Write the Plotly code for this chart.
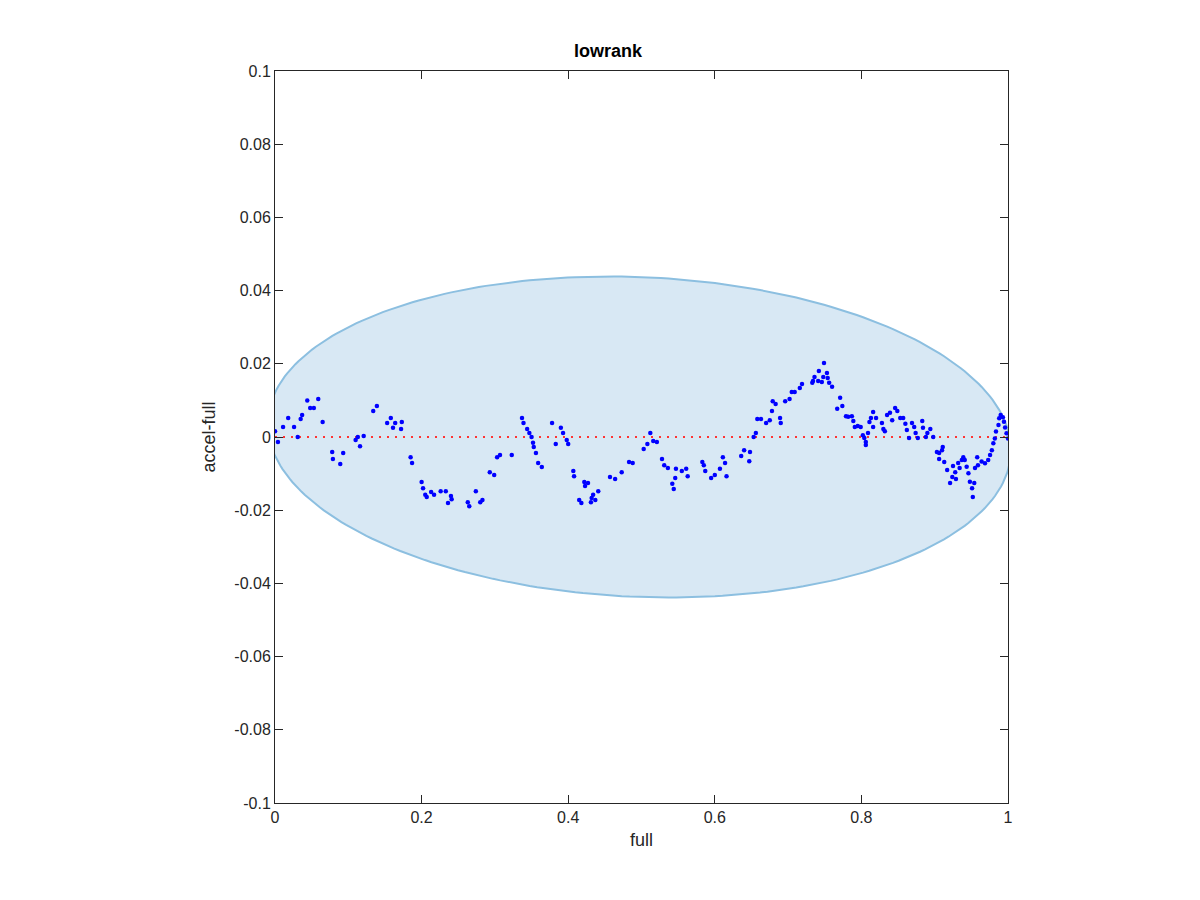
import numpy as np
import plotly.graph_objects as go

x_vals = [0.000,0.004,0.011,0.018,0.026,0.031,0.035,0.037,0.044,0.048,0.053,0.059,0.065,0.078,0.079,0.089,0.093,
0.110,0.113,0.116,0.121,0.134,0.139,0.153,0.158,0.161,0.164,0.172,0.173,0.185,0.187,0.200,0.202,0.205,0.207,0.213,
0.217,0.226,0.233,0.236,0.240,0.241,0.263,0.265,0.274,0.280,0.283,0.293,0.299,0.303,0.307,0.323,0.337,0.339,0.344,
0.347,0.350,0.352,0.353,0.356,0.359,0.364,0.378,0.383,0.390,0.393,0.398,0.400,0.407,0.408,0.422,0.423,0.427,0.415,
0.418,0.431,0.432,0.434,0.437,0.441,0.457,0.464,0.473,0.483,0.488,
0.503,0.508,0.512,0.516,0.521,0.528,0.531,0.536,0.542,0.544,0.546,0.547,0.555,0.561,0.563,0.583,0.585,0.587,0.595,
0.600,0.607,0.611,0.614,0.616,0.636,0.640,0.647,0.648,0.653,0.656,0.658,0.663,0.670,0.675,0.678,0.679,0.683,0.689,
0.690,0.696,0.702,0.705,0.709,0.716,0.719,0.733,0.734,0.736,0.741,0.742,0.746,0.748,0.749,0.753,0.754,0.756,0.760,
0.767,0.771,0.774,0.779,0.782,0.787,0.789,0.791,0.795,0.799,0.802,0.804,0.806,0.806,0.809,0.811,0.813,0.816,0.816,
0.820,0.828,0.830,0.832,0.835,0.839,0.842,0.846,0.849,0.853,0.857,0.860,0.862,0.865,0.869,0.872,0.874,0.877,0.883,
0.884,0.888,0.890,0.894,0.898,0.903,0.906,0.910,0.911,0.906,0.913,0.917,0.921,0.924,0.925,0.928,0.929,0.932,0.934,
0.937,0.939,0.941,0.9436,0.946,0.948,0.951,0.952,0.954,0.955,0.958,0.959,0.964,0.9686,0.973,0.9755,0.978,0.980,
0.982,0.9836,0.987,0.988,0.990,0.993,0.9945,0.996,0.998,1.0]
y_vals = [0.0016,-0.0014,0.0027,0.0052,0.0027,0.000,0.0049,0.006,0.010,0.0079,0.0079,0.0104,0.0041,-0.0041,-0.006,
-0.0074,-0.0044,-0.0008,0,-0.0025,0.0003,0.0071,0.0085,0.0038,0.0052,0.0025,0.0038,0.0022,0.0041,-0.0055,-0.0071,
-0.0123,-0.014,-0.0158,-0.0164,-0.015,-0.0158,-0.0148,-0.0148,-0.018,-0.0161,-0.017,-0.0178,-0.0189,-0.0148,-0.0178,
-0.0172,-0.0096,-0.0104,-0.0055,-0.0049,-0.0049,0.0052,0.0038,0.0022,0.0011,0,-0.0016,-0.0027,-0.0044,-0.0071,
-0.0082,0.0038,-0.0019,0.0025,0.0011,-0.0008,-0.0019,-0.0093,-0.0107,-0.0123,-0.0134,-0.0126,-0.0172,-0.018,-0.0178,
-0.0167,-0.0158,-0.0172,-0.0148,-0.0109,-0.0115,-0.0096,-0.0068,-0.0071,
-0.0033,-0.0019,0.0011,-0.0011,-0.0014,-0.006,-0.0077,-0.0085,-0.0128,-0.0142,-0.0112,-0.0087,-0.0093,-0.0087,-0.0107,
-0.0068,-0.0077,-0.0093,-0.0112,-0.0104,-0.0087,-0.0055,-0.0071,-0.0107,-0.0052,-0.0036,-0.0066,-0.0041,0,0.0011,
0.0049,0.0049,0.0038,0.0046,0.0071,0.0098,0.009,0.0052,0.0038,0.0098,0.0104,0.0123,0.0123,0.0134,0.0145,0.0148,
0.0153,0.0164,0.0153,0.018,0.015,0.0164,0.0202,0.0175,0.0161,0.0148,0.0137,0.0077,0.0107,0.0085,0.0057,0.0055,
0.0057,0.0044,0.0027,0.003,0.0027,0.0005,-0.0003,-0.0014,-0.0022,0.0011,0.0041,0.0052,0.0068,0.0027,0.0052,0.0038,
0.0022,0.0016,0.006,0.0066,0.0046,0.0079,0.0071,0.0052,0.0052,0.0036,0.0019,-0.0003,0.0038,0.0027,0.0011,-0.0003,
0.0044,0.0025,0,0.0011,0.0022,0,-0.0041,-0.0044,-0.0036,-0.0027,-0.006,-0.0068,-0.009,-0.0126,-0.0109,-0.0079,
-0.0096,-0.0115,-0.0071,-0.0085,-0.0063,-0.0055,-0.0063,-0.0081,-0.0099,-0.0122,-0.014,-0.0164,-0.0126,-0.0085,
-0.0055,-0.0077,-0.0067,-0.0072,-0.0063,-0.0049,-0.0036,-0.0017,-0.0004,0.0015,0.0033,0.0051,0.006,0.0054,0.0042,
0.0026,0.001,-0.0004]

ell_cx, ell_a, ell_b, ell_tilt = 0.497, 0.507, 0.0437, 0.0036
t = np.linspace(0, 2*np.pi, 300)
ex = ell_cx + ell_a*np.cos(t)
ey = ell_b*np.sin(t) - ell_tilt*np.cos(t)

fig = go.Figure()
fig.add_trace(go.Scatter(x=ex, y=ey, mode="lines", fill="toself",
    fillcolor="rgba(216,232,244,1)", line=dict(color="#8cbfe0", width=2), hoverinfo="skip"))
fig.add_trace(go.Scatter(x=[0, 1], y=[0, 0], mode="lines",
    line=dict(color="#ff3333", width=2, dash="2px,6px")))
fig.add_trace(go.Scatter(x=x_vals, y=y_vals, mode="markers",
    marker=dict(color="blue", size=4.5)))

ax = dict(showgrid=False, zeroline=False, showline=True, linecolor="#262626", linewidth=1,
          mirror="ticks", ticks="inside", ticklen=8, tickcolor="#262626",
          tickfont=dict(size=16, color="#262626"))
fig.update_layout(
    width=1200, height=900, plot_bgcolor="white", paper_bgcolor="white", showlegend=False,
    margin=dict(l=267, r=200, t=63, b=105),
    font=dict(family="Liberation Sans, Arial", color="#262626"),
    title=dict(text="<b>lowrank</b>", x=0.5, xanchor="center", y=0.953, yanchor="middle",
               font=dict(size=18, color="black")),
    xaxis=dict(ax, range=[0, 1], tickvals=[0, 0.2, 0.4, 0.6, 0.8, 1], ticktext=["0","0.2","0.4","0.6","0.8","1"],
               title=dict(text="full", font=dict(size=18), standoff=8)),
    yaxis=dict(ax, range=[-0.1, 0.1], tickvals=[-0.1,-0.08,-0.06,-0.04,-0.02,0,0.02,0.04,0.06,0.08,0.1],
               ticktext=["-0.1","-0.08","-0.06","-0.04","-0.02","0","0.02","0.04","0.06","0.08","0.1"],
               title=dict(text="accel-full", font=dict(size=18), standoff=14)),
)
fig.write_html("out.html")
